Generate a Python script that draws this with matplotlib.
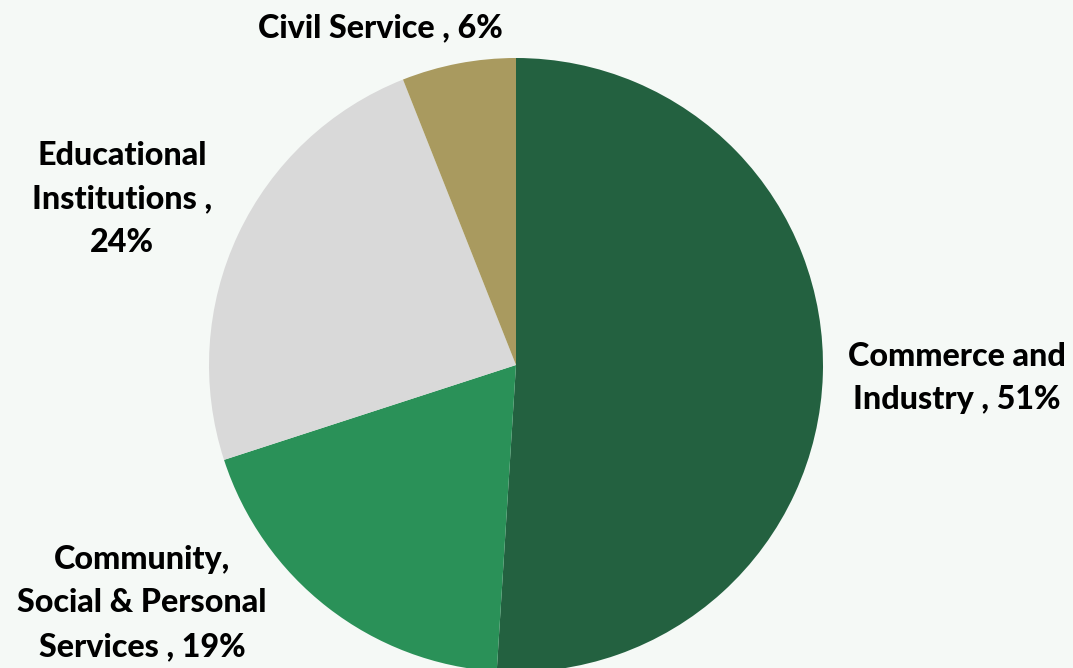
import matplotlib.pyplot as plt

# data
sectors = ["Commerce and\nIndustry", "Community,\nSocial & Personal\nServices",
           "Educational\nInstitutions", "Civil Service"]
shares = [51, 19, 24, 6]
colours = ["#236140", "#2a9158", "#d9d9d9", "#a99a5f"]

bg = "#f5f9f6"
W, H = 1073, 668

fig = plt.figure(figsize=(W / 100, H / 100), dpi=100, facecolor=bg)
ax = fig.add_axes([0, 0, 1, 1])
ax.set_facecolor(bg)

ax.pie(shares, colors=colours, startangle=90, counterclock=False,
       center=(516, H - 365), radius=307, frame=True,
       wedgeprops=dict(linewidth=0))
ax.set_xlim(0, W)
ax.set_ylim(0, H)
ax.set_aspect("equal")
ax.axis("off")

# label positions in pixel space (x, y from top)
label_pos = [(957, 378), (142, 603), (122, 199), (380, 28)]
label_txt = ["Commerce and\nIndustry , 51%", "Community,\nSocial & Personal\nServices , 19%",
             "Educational\nInstitutions ,\n24%", "Civil Service , 6%"]
for (x, y), t in zip(label_pos, label_txt):
    ax.text(x, H - y, t, ha="center", va="center", fontsize=23.2,
            fontweight="black", family=["Lato", "DejaVu Sans"],
            linespacing=1.62, color="black")

fig.savefig("out.png", dpi=100, facecolor=bg)
